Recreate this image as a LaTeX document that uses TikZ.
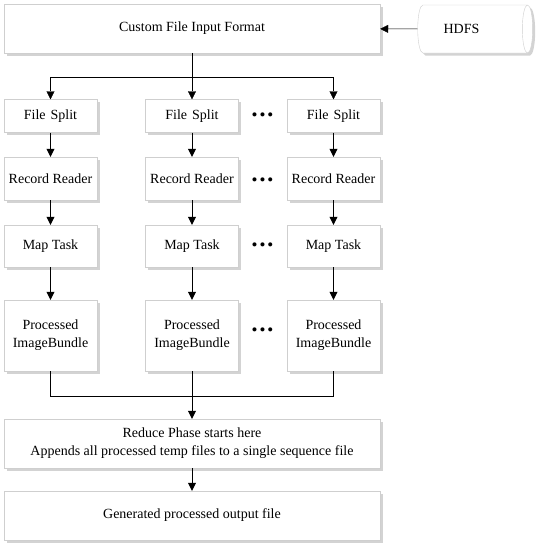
\documentclass[tikz,border=0pt]{standalone}
\usepackage{fontspec}
\setmainfont{Liberation Serif}
\usepackage{xcolor}
\usetikzlibrary{arrows.meta,shapes.geometric,shadows}
\definecolor{boxline}{HTML}{CFCFCF}
\begin{document}
\begin{tikzpicture}[x=1pt,y=-1pt]
\tikzstyle{every node}+=[inner sep=0pt, font=\fontsize{14}{18}\selectfont, align=center]
\tikzstyle{box}=[draw=boxline, fill=white, rectangle, drop shadow={opacity=0.35, shadow xshift=2.5pt, shadow yshift=-2.5pt}]
\tikzstyle{arr}=[-{Triangle[length=8pt,width=8pt]}]
\tikzstyle{dots}=[font=\fontsize{17}{17}\selectfont]
\useasboundingbox (0,0) rectangle (538,550);
\node [box, cylinder, aspect=1.1, minimum width=48pt, minimum height=115pt] (hdfs) at (472.5,29) {HDFS\hspace{22pt}};
\node [box, minimum width=376pt, minimum height=49pt] (input) at (192,28.5) {Custom File Input Format};
\node [box, minimum width=93pt, minimum height=33pt] (split1) at (50.5,116) {File\hspace{5pt}Split};
\node [box, minimum width=93pt, minimum height=33pt] (split2) at (192,116) {File\hspace{5pt}Split};
\node [box, minimum width=93pt, minimum height=33pt] (split3) at (333.5,116) {File\hspace{5pt}Split};
\node [box, minimum width=93pt, minimum height=43pt] (reader1) at (50.5,178.5) {Record Reader};
\node [box, minimum width=93pt, minimum height=43pt] (reader2) at (192,178.5) {Record Reader};
\node [box, minimum width=93pt, minimum height=43pt] (reader3) at (333.5,178.5) {Record Reader};
\node [box, minimum width=93pt, minimum height=42pt] (map1) at (50.5,246) {Map Task};
\node [box, minimum width=93pt, minimum height=42pt] (map2) at (192,246) {Map Task};
\node [box, minimum width=93pt, minimum height=42pt] (map3) at (333.5,246) {Map Task};
\node [box, minimum width=93pt, minimum height=71pt] (bundle1) at (50.5,335.5) {Processed\\ImageBundle};
\node [box, minimum width=93pt, minimum height=71pt] (bundle2) at (192,335.5) {Processed\\ImageBundle};
\node [box, minimum width=93pt, minimum height=71pt] (bundle3) at (333.5,335.5) {Processed\\ImageBundle};
\node [box, minimum width=376pt, minimum height=49pt] (reduce) at (192,443.5) {Reduce Phase starts here\\Appends all processed temp files to a single sequence file};
\node [box, minimum width=376pt, minimum height=49pt] (output) at (192,515.5) {Generated processed output file};
\node [dots] (dots1) at (262.5,117) {\textbullet\hspace{2pt}\textbullet\hspace{2pt}\textbullet};
\node [dots] (dots2) at (262.5,182) {\textbullet\hspace{2pt}\textbullet\hspace{2pt}\textbullet};
\node [dots] (dots3) at (262.5,247) {\textbullet\hspace{2pt}\textbullet\hspace{2pt}\textbullet};
\node [dots] (dots4) at (262.5,332) {\textbullet\hspace{2pt}\textbullet\hspace{2pt}\textbullet};
\coordinate (fork) at (192,77);
\coordinate (join) at (192,396);
\draw [arr] (hdfs) -- (input);
\draw [arr] (input) -- (split2);
\draw [arr] (fork) -| (split1.north);
\draw [arr] (fork) -| (split3.north);
\draw [arr] (split1) -- (reader1);
\draw [arr] (split2) -- (reader2);
\draw [arr] (split3) -- (reader3);
\draw [arr] (reader1) -- (map1);
\draw [arr] (reader2) -- (map2);
\draw [arr] (reader3) -- (map3);
\draw [arr] (map1) -- (bundle1);
\draw [arr] (map2) -- (bundle2);
\draw [arr] (map3) -- (bundle3);
\draw (bundle1.south) |- (join);
\draw (bundle3.south) |- (join);
\draw [arr] (bundle2) -- (reduce);
\draw [arr] (reduce) -- (output);
\end{tikzpicture}
\end{document}
